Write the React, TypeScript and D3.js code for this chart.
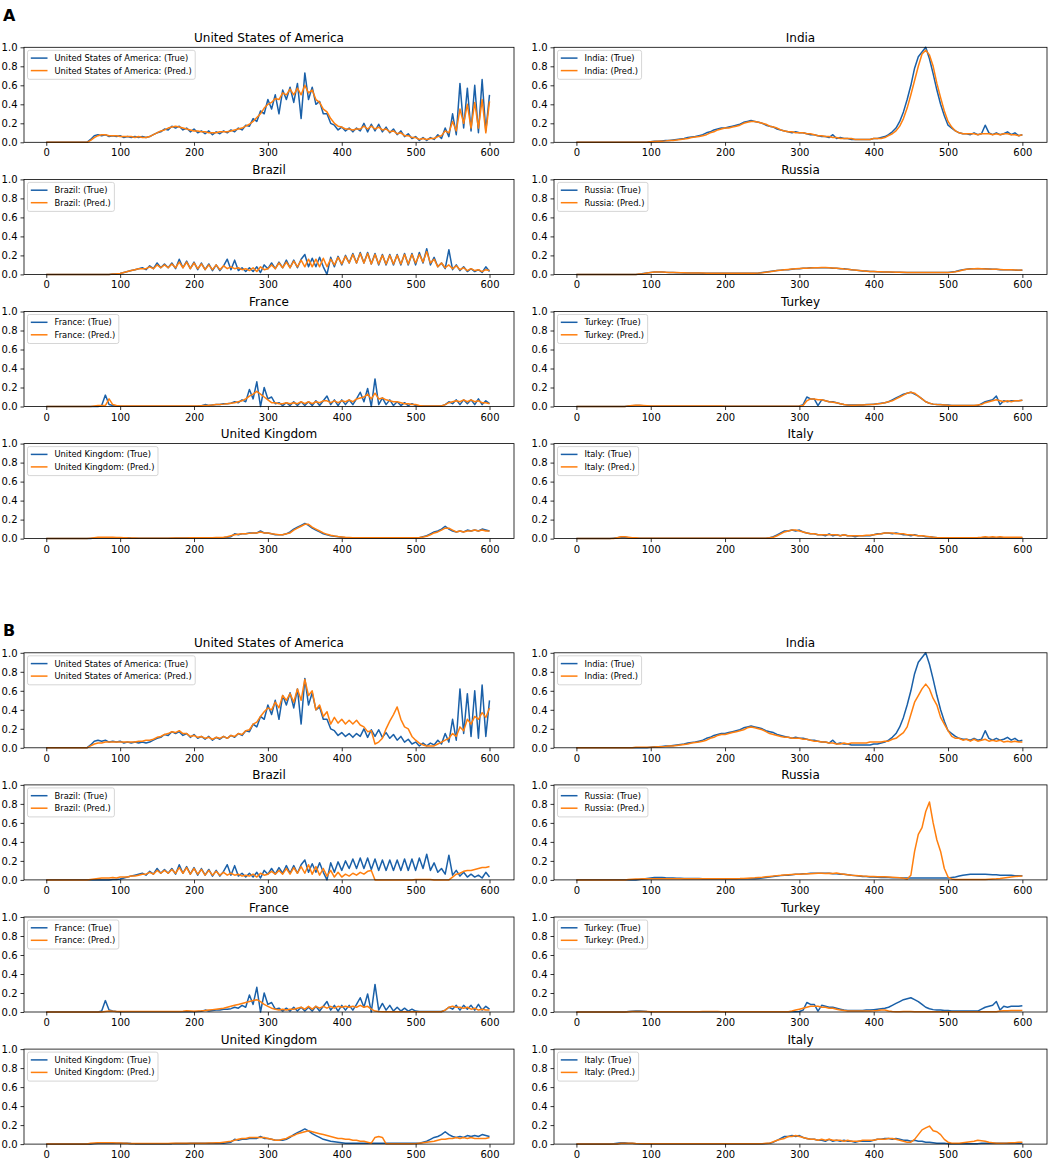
import React, { useRef, useEffect } from 'react';
import * as d3 from 'd3';

// samples are every 5 days, day 0 .. 600
const STEP = 5;

const usaTrue = [
  0,0,0,0,0,0,0,0,0,0,0,0,0.03,0.07,0.08,0.07,0.08,0.06,0.07,0.06,
  0.07,0.05,0.06,0.05,0.06,0.05,0.06,0.05,0.06,0.08,0.10,0.11,0.14,0.13,0.17,0.15,0.17,0.13,0.15,0.11,
  0.14,0.10,0.12,0.09,0.12,0.08,0.11,0.09,0.12,0.10,0.13,0.11,0.15,0.13,0.18,0.17,0.25,0.22,0.33,0.30,
  0.45,0.35,0.50,0.30,0.55,0.45,0.58,0.42,0.62,0.25,0.73,0.45,0.58,0.40,0.43,0.30,0.30,0.20,0.18,0.13,
  0.16,0.12,0.15,0.11,0.15,0.12,0.20,0.11,0.19,0.12,0.19,0.11,0.16,0.10,0.14,0.08,0.12,0.06,0.09,0.04,
  0.06,0.02,0.05,0.02,0.05,0.03,0.08,0.04,0.15,0.06,0.30,0.08,0.62,0.15,0.57,0.12,0.60,0.10,0.66,0.12,
  0.50];
const usaPredA = [
  0,0,0,0,0,0,0,0,0,0,0,0,0.02,0.05,0.07,0.08,0.08,0.07,0.07,0.07,
  0.06,0.06,0.06,0.06,0.05,0.06,0.05,0.05,0.06,0.08,0.10,0.12,0.13,0.15,0.16,0.17,0.16,0.15,0.14,0.13,
  0.12,0.12,0.11,0.11,0.10,0.10,0.10,0.11,0.11,0.11,0.12,0.13,0.14,0.15,0.17,0.19,0.22,0.26,0.30,0.36,
  0.40,0.42,0.46,0.45,0.52,0.50,0.56,0.50,0.57,0.50,0.60,0.52,0.55,0.45,0.42,0.35,0.32,0.25,0.20,0.17,
  0.16,0.14,0.14,0.13,0.14,0.14,0.17,0.14,0.17,0.14,0.16,0.13,0.14,0.11,0.12,0.09,0.10,0.07,0.07,0.05,
  0.05,0.03,0.04,0.03,0.04,0.04,0.06,0.07,0.12,0.10,0.22,0.12,0.35,0.20,0.40,0.15,0.42,0.15,0.45,0.10,
  0.43];
const usaPredB = [
  0,0,0,0,0,0,0,0,0,0,0,0,0.02,0.04,0.05,0.05,0.06,0.06,0.06,0.06,
  0.06,0.06,0.06,0.06,0.06,0.07,0.07,0.08,0.08,0.09,0.11,0.12,0.14,0.15,0.17,0.16,0.18,0.15,0.15,0.12,
  0.13,0.11,0.12,0.10,0.11,0.09,0.11,0.10,0.12,0.10,0.13,0.12,0.15,0.14,0.18,0.19,0.25,0.27,0.33,0.38,
  0.42,0.40,0.48,0.42,0.55,0.50,0.57,0.48,0.62,0.50,0.72,0.55,0.60,0.40,0.45,0.33,0.38,0.25,0.32,0.26,
  0.30,0.25,0.29,0.25,0.29,0.24,0.22,0.17,0.18,0.04,0.06,0.10,0.20,0.28,0.35,0.43,0.30,0.22,0.20,0.12,
  0.08,0.05,0.03,0.02,0.02,0.02,0.04,0.06,0.08,0.10,0.15,0.12,0.22,0.18,0.30,0.25,0.33,0.30,0.37,0.32,
  0.42];

const indiaTrue = [
  0,0,0,0,0,0,0,0,0,0,0,0,0,0,0,0,0,0,0,0,
  0.005,0.01,0.01,0.015,0.02,0.02,0.025,0.03,0.035,0.04,0.05,0.055,0.06,0.07,0.08,0.10,0.11,0.13,0.14,0.15,
  0.15,0.16,0.17,0.18,0.19,0.21,0.22,0.23,0.22,0.21,0.20,0.18,0.17,0.16,0.14,0.13,0.12,0.11,0.10,0.11,
  0.10,0.10,0.09,0.08,0.08,0.07,0.06,0.06,0.05,0.08,0.04,0.05,0.04,0.04,0.03,0.03,0.03,0.03,0.03,0.03,
  0.04,0.04,0.05,0.06,0.08,0.11,0.15,0.22,0.32,0.45,0.60,0.78,0.90,0.95,1.0,0.88,0.72,0.55,0.40,0.28,
  0.18,0.15,0.12,0.10,0.09,0.09,0.08,0.10,0.08,0.09,0.18,0.10,0.08,0.10,0.08,0.09,0.11,0.08,0.10,0.07,
  0.08];
const indiaPredA = [
  0,0,0,0,0,0,0,0,0,0,0,0,0,0,0,0,0,0,0,0,
  0.005,0.008,0.01,0.012,0.015,0.02,0.02,0.025,0.03,0.035,0.04,0.05,0.055,0.06,0.07,0.08,0.10,0.11,0.13,0.14,
  0.15,0.15,0.16,0.17,0.18,0.20,0.21,0.22,0.22,0.21,0.20,0.19,0.17,0.16,0.15,0.13,0.12,0.11,0.11,0.10,
  0.10,0.10,0.09,0.09,0.08,0.07,0.07,0.06,0.06,0.05,0.05,0.04,0.04,0.04,0.04,0.03,0.03,0.03,0.03,0.03,
  0.04,0.04,0.04,0.05,0.07,0.09,0.12,0.17,0.25,0.36,0.50,0.65,0.80,0.93,0.97,0.92,0.80,0.62,0.47,0.33,
  0.22,0.16,0.12,0.10,0.09,0.09,0.09,0.09,0.08,0.09,0.09,0.09,0.08,0.09,0.08,0.09,0.09,0.08,0.08,0.07,
  0.08];
const indiaPredB = [
  0,0,0,0,0,0,0,0,0,0,0,0,0,0,0,0,0.005,0.005,0.005,0.005,
  0.005,0.008,0.01,0.012,0.015,0.02,0.02,0.025,0.03,0.035,0.04,0.05,0.055,0.06,0.07,0.08,0.10,0.11,0.13,0.14,
  0.14,0.15,0.16,0.17,0.18,0.19,0.21,0.22,0.21,0.20,0.19,0.17,0.15,0.14,0.13,0.12,0.11,0.11,0.10,0.10,
  0.10,0.09,0.09,0.08,0.07,0.07,0.06,0.06,0.05,0.05,0.04,0.04,0.05,0.04,0.05,0.05,0.05,0.05,0.05,0.06,
  0.06,0.06,0.06,0.07,0.07,0.09,0.10,0.13,0.16,0.22,0.35,0.48,0.55,0.62,0.67,0.62,0.52,0.45,0.32,0.25,
  0.18,0.12,0.10,0.10,0.08,0.09,0.07,0.09,0.07,0.08,0.09,0.07,0.08,0.07,0.08,0.06,0.07,0.06,0.07,0.06,
  0.06];

const brazilTrue = [
  0,0,0,0,0,0,0,0,0,0,0,0,0,0,0,0,0,0,0.003,0.005,
  0.01,0.02,0.03,0.04,0.05,0.06,0.07,0.05,0.09,0.06,0.12,0.07,0.11,0.07,0.12,0.06,0.16,0.07,0.14,0.06,
  0.13,0.05,0.12,0.05,0.11,0.04,0.10,0.04,0.09,0.16,0.05,0.15,0.04,0.07,0.03,0.07,0.03,0.08,0.02,0.10,
  0.06,0.12,0.06,0.13,0.07,0.15,0.07,0.15,0.07,0.16,0.21,0.08,0.17,0.08,0.18,0.08,0.0,0.18,0.08,0.19,
  0.10,0.20,0.12,0.22,0.12,0.23,0.12,0.23,0.11,0.22,0.10,0.21,0.10,0.21,0.10,0.21,0.10,0.22,0.10,0.22,
  0.10,0.23,0.12,0.27,0.10,0.18,0.08,0.12,0.06,0.26,0.05,0.10,0.04,0.08,0.03,0.06,0.03,0.05,0.02,0.08,
  0.03];
const brazilPredA = [
  0,0,0,0,0,0,0,0,0,0,0,0,0,0,0,0,0,0,0.003,0.006,
  0.01,0.02,0.03,0.04,0.05,0.06,0.06,0.06,0.08,0.06,0.10,0.07,0.10,0.07,0.11,0.07,0.13,0.07,0.13,0.06,
  0.12,0.06,0.11,0.05,0.10,0.05,0.10,0.05,0.09,0.06,0.08,0.06,0.07,0.05,0.06,0.04,0.07,0.03,0.08,0.05,
  0.06,0.10,0.06,0.12,0.07,0.13,0.07,0.14,0.08,0.15,0.08,0.16,0.08,0.16,0.08,0.17,0.08,0.16,0.10,0.18,
  0.11,0.19,0.12,0.21,0.12,0.22,0.12,0.22,0.11,0.21,0.11,0.20,0.11,0.20,0.11,0.20,0.11,0.21,0.11,0.21,
  0.12,0.21,0.13,0.24,0.12,0.16,0.08,0.12,0.07,0.10,0.06,0.09,0.05,0.07,0.04,0.06,0.04,0.05,0.03,0.05,
  0.04];
const brazilPredB = [
  0,0,0,0,0,0,0,0,0,0,0,0,0.005,0.01,0.015,0.02,0.02,0.02,0.025,0.02,
  0.03,0.03,0.03,0.04,0.04,0.05,0.06,0.06,0.08,0.06,0.10,0.07,0.10,0.07,0.11,0.07,0.13,0.07,0.13,0.06,
  0.12,0.06,0.11,0.05,0.10,0.05,0.09,0.05,0.08,0.05,0.07,0.05,0.06,0.04,0.05,0.04,0.06,0.03,0.07,0.05,
  0.06,0.09,0.06,0.10,0.06,0.12,0.06,0.13,0.07,0.14,0.07,0.16,0.06,0.14,0.05,0.12,0.04,0.10,0.03,0.08,
  0.03,0.06,0.04,0.07,0.05,0.08,0.06,0.09,0.10,0,0,0,0,0,0,0,0,0,0,0,
  0.005,0.005,0.005,0.005,0.005,0,0,0,0,0,0.03,0.06,0.07,0.09,0.10,0.10,0.11,0.12,0.13,0.13,
  0.14];

const russiaTrue = [
  0,0,0,0,0,0,0,0,0,0,0,0,0,0,0,0,0,0.005,0.01,0.015,
  0.02,0.025,0.025,0.025,0.022,0.02,0.02,0.018,0.017,0.016,0.015,0.015,0.014,0.014,0.013,0.013,0.012,0.012,0.012,0.012,
  0.012,0.012,0.012,0.012,0.012,0.012,0.012,0.012,0.013,0.015,0.02,0.025,0.03,0.035,0.04,0.045,0.05,0.05,0.055,0.06,
  0.06,0.065,0.065,0.07,0.07,0.07,0.07,0.07,0.07,0.065,0.065,0.06,0.06,0.055,0.05,0.045,0.04,0.035,0.035,0.03,
  0.03,0.028,0.026,0.025,0.024,0.023,0.022,0.022,0.021,0.021,0.02,0.02,0.02,0.02,0.02,0.02,0.02,0.02,0.02,0.02,
  0.02,0.025,0.03,0.04,0.05,0.055,0.06,0.06,0.06,0.06,0.06,0.058,0.055,0.055,0.05,0.05,0.05,0.048,0.045,0.045,
  0.045];
const russiaPredA = [
  0,0,0,0,0,0,0,0,0,0,0,0,0,0,0,0,0,0.004,0.008,0.014,
  0.02,0.024,0.026,0.025,0.023,0.021,0.02,0.019,0.018,0.017,0.016,0.015,0.015,0.014,0.014,0.013,0.013,0.012,0.012,0.012,
  0.012,0.012,0.012,0.012,0.012,0.012,0.012,0.012,0.013,0.014,0.018,0.023,0.028,0.034,0.04,0.044,0.048,0.052,0.056,0.06,
  0.062,0.064,0.066,0.068,0.07,0.07,0.072,0.072,0.07,0.068,0.065,0.062,0.058,0.055,0.05,0.046,0.042,0.038,0.034,0.03,
  0.03,0.028,0.027,0.026,0.025,0.024,0.023,0.022,0.022,0.021,0.021,0.02,0.02,0.02,0.02,0.02,0.02,0.02,0.02,0.02,
  0.02,0.023,0.028,0.036,0.046,0.054,0.058,0.06,0.062,0.06,0.058,0.056,0.055,0.054,0.052,0.05,0.05,0.048,0.046,0.045,
  0.046];
const russiaPredB = [
  0,0,0,0,0,0,0,0,0,0,0,0,0,0,0.005,0.008,0.01,0.01,0.012,0.012,
  0.012,0.012,0.012,0.012,0.012,0.012,0.012,0.012,0.012,0.012,0.012,0.012,0.012,0.012,0.012,0.012,0.012,0.012,0.012,0.012,
  0.012,0.012,0.012,0.013,0.014,0.016,0.018,0.02,0.022,0.025,0.028,0.032,0.036,0.04,0.045,0.048,0.052,0.055,0.058,0.06,
  0.06,0.062,0.064,0.066,0.068,0.07,0.07,0.068,0.07,0.068,0.072,0.065,0.06,0.055,0.05,0.047,0.044,0.04,0.038,0.036,
  0.035,0.034,0.033,0.032,0.03,0.028,0.025,0.022,0.018,0.01,0.05,0.30,0.48,0.55,0.72,0.82,0.60,0.42,0.30,0.12,
  0.03,0.01,0.005,0.005,0.005,0.005,0.005,0.005,0.005,0.005,0.005,0.008,0.01,0.012,0.015,0.02,0.025,0.03,0.035,0.038,
  0.04];

const franceTrue = [
  0,0,0,0,0,0,0,0,0,0,0,0,0,0,0,0.01,0.12,0.02,0.01,0.005,
  0.003,0.003,0.003,0.003,0.003,0.003,0.003,0.003,0.003,0.003,0.003,0.003,0.003,0.003,0.003,0.003,0.003,0.003,0.003,0.003,
  0.003,0.005,0.008,0.02,0.01,0.015,0.02,0.02,0.03,0.03,0.035,0.05,0.04,0.07,0.05,0.18,0.08,0.26,0.0,0.20,
  0.08,0.10,0.03,0.04,0.01,0.04,0.01,0.05,0.01,0.05,0.01,0.05,0.01,0.06,0.01,0.06,0.11,0.02,0.07,0.01,
  0.07,0.02,0.07,0.02,0.08,0.15,0.05,0.19,0.0,0.29,0.02,0.09,0.02,0.07,0.01,0.05,0.01,0.04,0.01,0.03,
  0.01,0.005,0.005,0.005,0.005,0.005,0.005,0.005,0.02,0.05,0.03,0.07,0.02,0.07,0.03,0.07,0.02,0.08,0.02,0.06,
  0.03];
const francePredA = [
  0,0,0,0,0,0,0,0,0,0,0,0,0,0.005,0.01,0.01,0.01,0.08,0.02,0.01,
  0.005,0.005,0.005,0.005,0.005,0.005,0.005,0.005,0.005,0.005,0.005,0.005,0.005,0.005,0.005,0.005,0.005,0.005,0.005,0.005,
  0.005,0.006,0.008,0.01,0.012,0.015,0.02,0.022,0.025,0.03,0.035,0.04,0.05,0.06,0.08,0.11,0.13,0.16,0.13,0.10,
  0.07,0.04,0.04,0.03,0.03,0.04,0.03,0.04,0.03,0.05,0.03,0.05,0.03,0.05,0.04,0.06,0.06,0.04,0.06,0.04,
  0.06,0.05,0.07,0.05,0.08,0.09,0.10,0.13,0.08,0.14,0.08,0.09,0.07,0.06,0.05,0.05,0.04,0.03,0.03,0.02,
  0.02,0.01,0.005,0.005,0.005,0.005,0.005,0.005,0.02,0.04,0.05,0.06,0.05,0.07,0.05,0.07,0.05,0.06,0.04,0.04,
  0.03];
const francePredB = [
  0,0,0,0,0,0,0,0,0,0,0,0,0,0,0,0,0.005,0.01,0.008,0.005,
  0.005,0.005,0.005,0.005,0.005,0.005,0.005,0.005,0.005,0.005,0.005,0.005,0.005,0.005,0.005,0.005,0.005,0.008,0.012,0.01,
  0.008,0.01,0.012,0.015,0.02,0.025,0.03,0.035,0.04,0.05,0.06,0.07,0.08,0.09,0.10,0.11,0.12,0.13,0.11,0.08,
  0.06,0.04,0.03,0.02,0.03,0.02,0.03,0.03,0.04,0.05,0.03,0.06,0.03,0.06,0.04,0.06,0.04,0.06,0.04,0.06,
  0.05,0.06,0.05,0.06,0.05,0.07,0.05,0.06,0.03,0.01,0.005,0.003,0.003,0.003,0.003,0.003,0.003,0.003,0.003,0.003,
  0.003,0.003,0.003,0.003,0.003,0.003,0.003,0.003,0.02,0.05,0.06,0.05,0.05,0.04,0.05,0.03,0.04,0.02,0.03,0.02,
  0.02];

const turkeyTrue = [
  0,0,0,0,0,0,0,0,0,0,0,0,0,0,0.005,0.008,0.01,0.01,0.008,0.005,
  0.003,0.003,0.003,0.003,0.003,0.003,0.003,0.003,0.003,0.003,0.003,0.003,0.003,0.003,0.003,0.003,0.003,0.003,0.003,0.003,
  0.003,0.003,0.003,0.003,0.003,0.003,0.003,0.003,0.003,0.003,0.003,0.003,0.003,0.003,0.003,0.003,0.003,0.003,0.003,0.003,
  0.005,0.02,0.10,0.08,0.08,0.01,0.07,0.06,0.05,0.05,0.04,0.03,0.02,0.015,0.015,0.015,0.015,0.015,0.02,0.02,
  0.025,0.03,0.035,0.04,0.05,0.07,0.09,0.11,0.13,0.14,0.15,0.13,0.11,0.08,0.05,0.035,0.025,0.02,0.02,0.015,
  0.015,0.01,0.01,0.01,0.01,0.01,0.01,0.01,0.01,0.03,0.05,0.06,0.07,0.11,0.02,0.06,0.05,0.06,0.06,0.06,
  0.065];
const turkeyPredA = [
  0,0,0,0,0,0,0,0,0,0,0,0,0,0,0.005,0.01,0.012,0.012,0.01,0.008,
  0.004,0.004,0.004,0.004,0.004,0.004,0.004,0.004,0.004,0.004,0.004,0.004,0.004,0.004,0.004,0.004,0.004,0.004,0.004,0.004,
  0.003,0.003,0.003,0.003,0.003,0.003,0.003,0.003,0.003,0.003,0.003,0.003,0.003,0.003,0.003,0.003,0.003,0.003,0.003,0.003,
  0.005,0.01,0.06,0.08,0.08,0.07,0.07,0.06,0.05,0.045,0.04,0.03,0.02,0.015,0.012,0.012,0.015,0.015,0.018,0.02,
  0.022,0.028,0.032,0.04,0.05,0.06,0.08,0.10,0.12,0.14,0.15,0.14,0.11,0.08,0.05,0.035,0.025,0.02,0.018,0.015,
  0.012,0.01,0.01,0.01,0.01,0.01,0.01,0.01,0.015,0.02,0.04,0.05,0.06,0.07,0.06,0.05,0.06,0.05,0.06,0.06,
  0.065];
const turkeyPredB = [
  0,0,0,0,0,0,0,0,0,0,0,0,0,0,0.003,0.005,0.006,0.006,0.005,0.004,
  0.003,0.003,0.003,0.003,0.003,0.003,0.003,0.003,0.003,0.003,0.003,0.003,0.003,0.003,0.005,0.006,0.006,0.005,0.004,0.003,
  0.003,0.003,0.003,0.003,0.003,0.003,0.003,0.003,0.003,0.003,0.003,0.003,0.003,0.003,0.003,0.003,0.003,0.003,0.01,0.02,
  0.03,0.04,0.05,0.06,0.06,0.06,0.05,0.05,0.04,0.04,0.03,0.02,0.015,0.01,0.01,0.01,0.01,0.01,0.01,0.01,
  0.012,0.015,0.02,0.02,0.01,0.005,0.003,0.003,0.005,0.005,0.005,0.003,0.003,0.003,0.003,0.003,0.003,0.003,0.003,0.003,
  0.003,0.003,0.003,0.003,0.003,0.003,0.003,0.003,0.003,0.003,0.003,0.003,0.003,0.003,0.01,0.012,0.012,0.015,0.015,0.015,
  0.015];

const ukTrue = [
  0,0,0,0,0,0,0,0,0,0,0,0,0,0.005,0.01,0.01,0.01,0.01,0.01,0.01,
  0.01,0.01,0.008,0.006,0.005,0.005,0.005,0.005,0.005,0.005,0.005,0.005,0.005,0.005,0.005,0.006,0.006,0.006,0.007,0.008,
  0.008,0.008,0.008,0.009,0.01,0.01,0.01,0.01,0.01,0.015,0.02,0.05,0.04,0.05,0.05,0.06,0.06,0.06,0.08,0.06,
  0.06,0.05,0.04,0.04,0.04,0.05,0.07,0.10,0.12,0.14,0.16,0.14,0.11,0.09,0.07,0.05,0.04,0.03,0.025,0.02,
  0.015,0.01,0.008,0.008,0.008,0.008,0.008,0.008,0.008,0.008,0.008,0.008,0.008,0.008,0.008,0.008,0.008,0.008,0.008,0.008,
  0.008,0.01,0.02,0.03,0.05,0.07,0.08,0.10,0.13,0.10,0.08,0.07,0.08,0.07,0.09,0.08,0.09,0.08,0.10,0.09,
  0.08];
const ukPredA = [
  0,0,0,0,0,0,0,0,0,0,0,0,0.005,0.01,0.015,0.015,0.015,0.015,0.015,0.012,
  0.012,0.01,0.008,0.007,0.006,0.005,0.005,0.005,0.005,0.005,0.005,0.005,0.005,0.005,0.006,0.006,0.006,0.007,0.007,0.008,
  0.008,0.008,0.009,0.01,0.01,0.01,0.012,0.012,0.015,0.02,0.03,0.04,0.045,0.05,0.05,0.055,0.06,0.06,0.07,0.06,
  0.06,0.05,0.045,0.04,0.04,0.05,0.06,0.09,0.11,0.13,0.15,0.15,0.12,0.10,0.08,0.06,0.045,0.035,0.028,0.022,
  0.018,0.014,0.012,0.01,0.01,0.01,0.01,0.01,0.01,0.01,0.01,0.01,0.01,0.01,0.01,0.01,0.01,0.01,0.01,0.01,
  0.01,0.012,0.018,0.025,0.04,0.06,0.07,0.09,0.11,0.11,0.09,0.07,0.08,0.07,0.08,0.08,0.09,0.08,0.09,0.08,
  0.08];
const ukPredB = [
  0,0,0,0,0,0,0,0,0,0,0,0,0.008,0.012,0.014,0.014,0.014,0.014,0.014,0.012,
  0.012,0.01,0.008,0.007,0.006,0.006,0.006,0.006,0.006,0.006,0.006,0.007,0.007,0.007,0.008,0.008,0.008,0.009,0.009,0.01,
  0.01,0.01,0.01,0.01,0.012,0.012,0.015,0.015,0.02,0.025,0.03,0.04,0.05,0.06,0.06,0.07,0.07,0.07,0.07,0.07,
  0.06,0.05,0.04,0.04,0.05,0.06,0.08,0.09,0.11,0.12,0.13,0.14,0.13,0.12,0.11,0.10,0.09,0.08,0.07,0.06,
  0.06,0.05,0.05,0.04,0.04,0.03,0.03,0.02,0.01,0.07,0.08,0.07,0.003,0.003,0.003,0.003,0.003,0.003,0.003,0.003,
  0.005,0.01,0.015,0.02,0.025,0.03,0.04,0.05,0.05,0.06,0.06,0.07,0.06,0.07,0.06,0.07,0.06,0.06,0.06,0.06,
  0.07];

const italyTrue = [
  0,0,0,0,0,0,0,0,0,0,0.005,0.01,0.015,0.015,0.01,0.01,0.005,0.004,0.003,0.003,
  0.003,0.003,0.003,0.003,0.003,0.003,0.003,0.003,0.003,0.003,0.003,0.003,0.003,0.003,0.003,0.003,0.003,0.003,0.003,0.003,
  0.003,0.003,0.003,0.003,0.003,0.003,0.003,0.003,0.003,0.003,0.003,0.005,0.01,0.02,0.04,0.06,0.08,0.08,0.09,0.08,
  0.09,0.07,0.06,0.05,0.05,0.04,0.04,0.03,0.05,0.03,0.04,0.03,0.04,0.03,0.03,0.02,0.03,0.03,0.03,0.03,
  0.04,0.05,0.05,0.06,0.06,0.05,0.06,0.05,0.04,0.04,0.03,0.04,0.03,0.03,0.02,0.02,0.015,0.01,0.01,0.008,
  0.005,0.005,0.005,0.005,0.005,0.005,0.005,0.005,0.005,0.008,0.01,0.01,0.01,0.01,0.01,0.01,0.01,0.01,0.01,0.01,
  0.01];
const italyPredA = [
  0,0,0,0,0,0,0,0,0,0,0,0.01,0.02,0.02,0.015,0.01,0.008,0.005,0.004,0.003,
  0.003,0.003,0.003,0.003,0.003,0.003,0.003,0.003,0.003,0.003,0.003,0.003,0.003,0.003,0.003,0.003,0.003,0.003,0.003,0.003,
  0.003,0.003,0.003,0.003,0.003,0.003,0.003,0.003,0.003,0.003,0.003,0.004,0.008,0.015,0.03,0.05,0.07,0.08,0.09,0.09,
  0.08,0.07,0.06,0.05,0.05,0.04,0.04,0.04,0.04,0.04,0.04,0.03,0.04,0.03,0.03,0.03,0.03,0.03,0.035,0.035,
  0.04,0.045,0.05,0.06,0.06,0.06,0.05,0.05,0.05,0.04,0.04,0.035,0.03,0.03,0.025,0.02,0.015,0.012,0.01,0.01,
  0.008,0.008,0.008,0.008,0.008,0.008,0.008,0.01,0.012,0.015,0.02,0.015,0.02,0.015,0.02,0.015,0.015,0.015,0.015,0.015,
  0.015];
const italyPredB = [
  0,0,0,0,0,0,0,0,0,0,0,0,0.008,0.01,0.01,0.008,0.006,0.005,0.004,0.003,
  0.003,0.003,0.003,0.003,0.003,0.003,0.003,0.003,0.003,0.003,0.003,0.003,0.003,0.003,0.003,0.003,0.003,0.003,0.003,0.003,
  0.003,0.003,0.003,0.003,0.003,0.003,0.003,0.003,0.003,0.003,0.005,0.008,0.01,0.025,0.04,0.05,0.06,0.08,0.08,0.09,
  0.08,0.07,0.06,0.05,0.05,0.04,0.05,0.04,0.05,0.04,0.04,0.04,0.03,0.04,0.03,0.03,0.03,0.04,0.04,0.04,
  0.04,0.05,0.05,0.05,0.06,0.06,0.05,0.04,0.03,0.02,0.02,0.05,0.10,0.15,0.17,0.19,0.14,0.13,0.10,0.05,
  0.02,0.01,0.01,0.01,0.015,0.02,0.025,0.03,0.04,0.035,0.03,0.02,0.015,0.01,0.01,0.01,0.012,0.015,0.015,0.02,
  0.02];

const leftCountries = ['United States of America', 'Brazil', 'France', 'United Kingdom'];
const rightCountries = ['India', 'Russia', 'Turkey', 'Italy'];

const trueSeries: Record<string, number[]> = {
  'United States of America': usaTrue, Brazil: brazilTrue, France: franceTrue, 'United Kingdom': ukTrue,
  India: indiaTrue, Russia: russiaTrue, Turkey: turkeyTrue, Italy: italyTrue,
};
const predSeriesA: Record<string, number[]> = {
  'United States of America': usaPredA, Brazil: brazilPredA, France: francePredA, 'United Kingdom': ukPredA,
  India: indiaPredA, Russia: russiaPredA, Turkey: turkeyPredA, Italy: italyPredA,
};
const predSeriesB: Record<string, number[]> = {
  'United States of America': usaPredB, Brazil: brazilPredB, France: francePredB, 'United Kingdom': ukPredB,
  India: indiaPredB, Russia: russiaPredB, Turkey: turkeyPredB, Italy: italyPredB,
};

const xTicks = [0, 100, 200, 300, 400, 500, 600];
const yTicks = [0, 0.2, 0.4, 0.6, 0.8, 1.0];

const W = 1052, H = 1159;
const COL_X = [24, 554];
const COL_W = [490, 493];
const AX_H = 95, ROW_STEP = 132.1;
const BLUE = '#1a60a8', ORANGE = '#ff7f0e';
const FONT = 'DejaVu Sans, sans-serif';

const panels = [
  { label: 'A', top: 47.3, labelY: 21, pred: predSeriesA },
  { label: 'B', top: 652.8, labelY: 636, pred: predSeriesB },
];

const App: React.FC = () => {
  const svgRef = useRef<SVGSVGElement | null>(null);

  useEffect(() => {
    const svg = d3.select(svgRef.current);
    svg.selectAll('*').remove();

    panels.forEach(panel => {
      svg.append('text')
        .attr('x', 3).attr('y', panel.labelY)
        .attr('font-family', FONT).attr('font-size', 16).attr('font-weight', 'bold')
        .text(panel.label);

      [leftCountries, rightCountries].forEach((col, ci) => {
        col.forEach((name, ri) => {
          const left = COL_X[ci];
          const axW = COL_W[ci];
          const top = panel.top + ri * ROW_STEP;
          const xs = d3.scaleLinear().domain([-30.15, 633.15]).range([left, left + axW]);
          const ys = d3.scaleLinear().domain([0, 1]).range([top + AX_H, top]);
          const g = svg.append('g');

          const line = d3.line<number>()
            .x((_, i) => xs(i * STEP))
            .y(d => ys(d));

          g.append('path').datum(trueSeries[name])
            .attr('d', line).attr('fill', 'none')
            .attr('stroke', BLUE).attr('stroke-width', 1.5).attr('stroke-linejoin', 'round');
          g.append('path').datum(panel.pred[name])
            .attr('d', line).attr('fill', 'none')
            .attr('stroke', ORANGE).attr('stroke-width', 1.5).attr('stroke-linejoin', 'round');

          // spines
          g.append('rect')
            .attr('x', left).attr('y', top).attr('width', axW).attr('height', AX_H)
            .attr('fill', 'none').attr('stroke', '#000').attr('stroke-width', 0.8);

          const xAxis = g.append('g')
            .attr('transform', `translate(0,${top + AX_H})`)
            .call(d3.axisBottom(xs).tickValues(xTicks).tickSize(3.5).tickPadding(3.5).tickFormat(d3.format('d')));
          const yAxis = g.append('g')
            .attr('transform', `translate(${left},0)`)
            .call(d3.axisLeft(ys).tickValues(yTicks).tickSize(3.5).tickPadding(3).tickFormat(d3.format('.1f')));
          [xAxis, yAxis].forEach(a => {
            a.select('.domain').remove();
            a.attr('font-family', FONT).attr('font-size', 10);
            a.selectAll('line').attr('stroke-width', 0.8);
          });

          g.append('text')
            .attr('x', left + axW / 2).attr('y', top - 5.5)
            .attr('text-anchor', 'middle')
            .attr('font-family', FONT).attr('font-size', 12)
            .text(name);

          // legend
          const lg = g.append('g').attr('transform', `translate(${left + 3.5},${top + 3})`);
          const frame = lg.append('rect')
            .attr('height', 29).attr('rx', 2)
            .attr('fill', 'white').attr('fill-opacity', 0.8)
            .attr('stroke', '#cccccc').attr('stroke-width', 0.8);
          let maxLen = 0;
          [[`${name}: (True)`, BLUE], [`${name}: (Pred.)`, ORANGE]].forEach(([label, color], k) => {
            const cy = 7.8 + k * 12.5;
            lg.append('line')
              .attr('x1', 3.3).attr('x2', 20).attr('y1', cy).attr('y2', cy)
              .attr('stroke', color).attr('stroke-width', 1.5);
            const t = lg.append('text')
              .attr('x', 27).attr('y', cy).attr('dy', '0.35em')
              .attr('font-family', FONT).attr('font-size', 8.33)
              .text(label);
            const len = (t.node() as SVGTextElement).getComputedTextLength();
            if (len > maxLen) maxLen = len;
          });
          frame.attr('width', 27 + maxLen + 3.5);
        });
      });
    });
  }, []);

  return (
    <div style={{ position: 'absolute', left: 0, top: 0 }}>
      <svg ref={svgRef} width={W} height={H} style={{ display: 'block', background: 'white' }} />
    </div>
  );
};

export default App;
